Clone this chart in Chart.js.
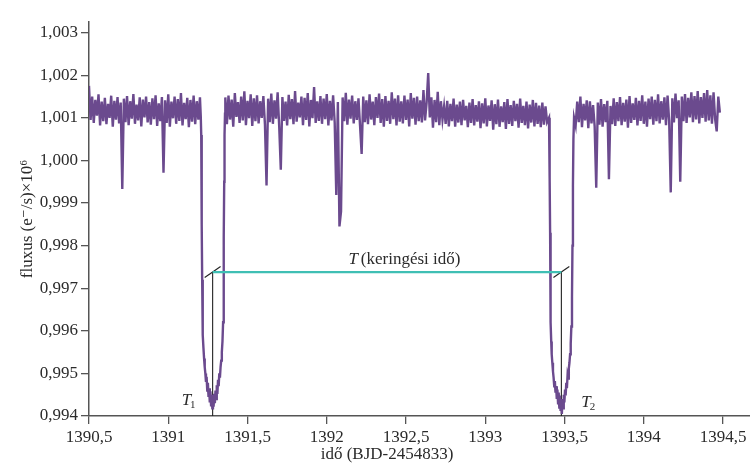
<!DOCTYPE html>
<html>
<head>
<meta charset="utf-8">
<script src="https://cdn.jsdelivr.net/npm/chart.js@4.4.1/dist/chart.umd.min.js"></script>
<style>
html,body{margin:0;padding:0;background:#fff;}
canvas{display:block;}
</style>
</head>
<body>
<canvas id="c" width="750" height="470"></canvas>
<script>
// ---------- DATA ----------
const xTickValues = [1390.5, 1391, 1391.5, 1392, 1392.5, 1393, 1393.5, 1394, 1394.5];
const yTickValues = [0.994, 0.995, 0.996, 0.997, 0.998, 0.999, 1.000, 1.001, 1.002, 1.003];

// segment before first transit
const timeA = [
1390.50,1390.51,1390.52,1390.53,1390.54,1390.55,1390.56,1390.57,1390.58,1390.59,
1390.60,1390.61,1390.62,1390.63,1390.64,1390.65,1390.66,1390.67,1390.68,1390.69,
1390.70,1390.71,1390.72,1390.73,1390.74,1390.75,1390.76,1390.77,1390.78,1390.79,
1390.80,1390.81,1390.82,1390.83,1390.84,1390.85,1390.86,1390.87,1390.88,1390.89,
1390.90,1390.91,1390.92,1390.93,1390.94,1390.95,1390.96,1390.97,1390.98,1390.99,
1391.00,1391.01,1391.02,1391.03,1391.04,1391.05,1391.06,1391.07,1391.08,1391.09,
1391.10,1391.11,1391.12,1391.13,1391.14,1391.15,1391.16,1391.17,1391.18,1391.19,
1391.20];
const fluxA = [
1.00175,1.00095,1.00150,1.00088,1.00142,1.00105,1.00155,1.00082,1.00138,1.00092,
1.00147,1.00085,1.00133,1.00100,1.00152,1.00079,1.00140,1.00096,1.00149,1.00087,
1.00136,0.99933,1.00145,1.00090,1.00151,1.00083,1.00139,1.00098,1.00156,1.00086,
1.00131,1.00094,1.00148,1.00080,1.00143,1.00101,1.00150,1.00089,1.00137,1.00084,
1.00146,1.00097,1.00153,1.00081,1.00134,1.00092,1.00149,0.99971,1.00141,1.00088,
1.00155,1.00079,1.00138,1.00099,1.00150,1.00086,1.00144,1.00093,1.00158,1.00082,
1.00135,1.00097,1.00147,1.00078,1.00142,1.00091,1.00152,1.00085,1.00139,1.00096,
1.00148];

// first transit
const timeT1 = [
1391.205,1391.208,1391.210,1391.212,1391.214,1391.216,1391.219,1391.222,1391.226,1391.230,
1391.234,1391.238,1391.242,1391.246,1391.250,1391.254,1391.258,1391.262,1391.266,1391.270,
1391.274,1391.278,1391.282,1391.286,1391.290,1391.294,1391.298,1391.302,1391.306,1391.310,
1391.314,1391.318,1391.322,1391.326,1391.330,1391.334,1391.338,1391.342,1391.346,1391.349,
1391.351,1391.353,1391.355,1391.358];
const fluxT1 = [
1.00105,1.00060,0.99980,0.99850,0.99720,0.99640,0.99590,0.99560,0.99535,0.99515,
0.99500,0.99480,0.99492,0.99460,0.99478,0.99445,0.99465,0.99432,0.99458,0.99425,
0.99450,0.99418,0.99445,0.99422,0.99452,0.99430,0.99460,0.99440,0.99472,0.99452,
0.99485,0.99470,0.99500,0.99490,0.99515,0.99530,0.99550,0.99575,0.99620,0.99700,
0.99820,0.99950,1.00060,1.00110];

// segment between the transits
const timeB = [
1391.36,1391.37,1391.38,1391.39,1391.40,1391.41,1391.42,1391.43,1391.44,1391.45,
1391.46,1391.47,1391.48,1391.49,1391.50,1391.51,1391.52,1391.53,1391.54,1391.55,
1391.56,1391.57,1391.58,1391.59,1391.60,1391.61,1391.62,1391.63,1391.64,1391.65,
1391.66,1391.67,1391.68,1391.69,1391.70,1391.71,1391.72,1391.73,1391.74,1391.75,
1391.76,1391.77,1391.78,1391.79,1391.80,1391.81,1391.82,1391.83,1391.84,1391.85,
1391.86,1391.87,1391.88,1391.89,1391.90,1391.91,1391.92,1391.93,1391.94,1391.95,
1391.96,1391.97,1391.98,1391.99,1392.00,1392.01,1392.02,1392.03,1392.04,1392.05,
1392.06,1392.07,1392.08,1392.09,1392.10,1392.11,1392.12,1392.13,1392.14,1392.15,
1392.16,1392.17,1392.18,1392.19,1392.20,1392.21,1392.22,1392.23,1392.24,1392.25,
1392.26,1392.27,1392.28,1392.29,1392.30,1392.31,1392.32,1392.33,1392.34,1392.35,
1392.36,1392.37,1392.38,1392.39,1392.40,1392.41,1392.42,1392.43,1392.44,1392.45,
1392.46,1392.47,1392.48,1392.49,1392.50,1392.51,1392.52,1392.53,1392.54,1392.55,
1392.56,1392.57,1392.58,1392.59,1392.60,1392.61,1392.62,1392.63,1392.64,1392.65,
1392.66,1392.67,1392.68,1392.69,1392.70,1392.71,1392.72,1392.73,1392.74,1392.75,
1392.76,1392.77,1392.78,1392.79,1392.80,1392.81,1392.82,1392.83,1392.84,1392.85,
1392.86,1392.87,1392.88,1392.89,1392.90,1392.91,1392.92,1392.93,1392.94,1392.95,
1392.96,1392.97,1392.98,1392.99,1393.00,1393.01,1393.02,1393.03,1393.04,1393.05,
1393.06,1393.07,1393.08,1393.09,1393.10,1393.11,1393.12,1393.13,1393.14,1393.15,
1393.16,1393.17,1393.18,1393.19,1393.20,1393.21,1393.22,1393.23,1393.24,1393.25,
1393.26,1393.27,1393.28,1393.29,1393.30,1393.31,1393.32,1393.33,1393.34,1393.35,
1393.36,1393.37,1393.38,1393.39];
const fluxB = [
1.00148,1.00085,1.00152,1.00096,1.00143,1.00079,1.00158,1.00102,1.00137,1.00088,
1.00150,1.00094,1.00162,1.00083,1.00140,1.00099,1.00155,1.00081,1.00146,1.00092,
1.00153,1.00087,1.00139,1.00100,1.00151,1.00084,0.99941,1.00145,1.00090,1.00157,
1.00086,1.00141,1.00098,1.00160,1.00079,0.99978,1.00149,1.00093,1.00138,1.00082,
1.00154,1.00097,1.00144,1.00085,1.00163,1.00091,1.00136,1.00101,1.00150,1.00083,
1.00147,1.00095,1.00158,1.00080,1.00142,1.00099,1.00172,1.00088,1.00139,1.00093,
1.00151,1.00086,1.00145,1.00097,1.00156,1.00082,1.00140,1.00094,1.00153,1.00089,
0.99919,1.00137,0.99845,0.99880,1.00148,1.00092,1.00159,1.00084,1.00143,1.00098,
1.00152,1.00087,1.00139,1.00095,1.00146,1.00081,1.00015,1.00150,1.00090,1.00141,
1.00085,1.00155,1.00096,1.00138,1.00083,1.00149,1.00100,1.00157,1.00088,1.00144,
1.00079,1.00151,1.00093,1.00140,1.00086,1.00160,1.00097,1.00145,1.00082,1.00153,
1.00091,1.00139,1.00087,1.00152,1.00095,1.00143,1.00080,1.00158,1.00098,1.00147,
1.00084,1.00150,1.00092,1.00141,1.00089,1.00165,1.00094,1.00136,1.00205,1.00101,
1.00148,1.00077,1.00142,1.00090,1.00161,1.00083,1.00139,1.00096,1.00127,1.00086,
1.00140,1.00080,1.00133,1.00092,1.00145,1.00079,1.00131,1.00089,1.00138,1.00083,
1.00142,1.00094,1.00128,1.00078,1.00136,1.00088,1.00144,1.00082,1.00130,1.00091,
1.00139,1.00076,1.00134,1.00087,1.00146,1.00080,1.00129,1.00093,1.00141,1.00072,
1.00132,1.00085,1.00143,1.00079,1.00127,1.00090,1.00137,1.00074,1.00144,1.00086,
1.00130,1.00081,1.00140,1.00092,1.00133,1.00077,1.00145,1.00088,1.00128,1.00083,
1.00138,1.00075,1.00131,1.00089,1.00142,1.00080,1.00135,1.00086,1.00129,1.00078,
1.00136,1.00084,1.00127,1.00090];

// second transit
const timeT2 = [
1393.402,1393.405,1393.407,1393.409,1393.411,1393.413,1393.416,1393.419,1393.423,1393.427,
1393.431,1393.435,1393.439,1393.443,1393.447,1393.451,1393.455,1393.459,1393.463,1393.467,
1393.471,1393.475,1393.479,1393.483,1393.487,1393.491,1393.495,1393.499,1393.503,1393.507,
1393.511,1393.515,1393.519,1393.523,1393.527,1393.531,1393.535,1393.539,1393.543,1393.547,
1393.550,1393.553,1393.556,1393.560];
const fluxT2 = [
1.00100,1.00040,0.99960,0.99830,0.99700,0.99620,0.99575,0.99545,0.99525,0.99505,
0.99490,0.99470,0.99482,0.99455,0.99470,0.99440,0.99462,0.99430,0.99455,0.99420,
0.99448,0.99412,0.99440,0.99405,0.99438,0.99418,0.99450,0.99432,0.99462,0.99448,
0.99478,0.99465,0.99495,0.99488,0.99512,0.99525,0.99545,0.99570,0.99610,0.99680,
0.99800,0.99940,1.00050,1.00100];

// segment after second transit
const timeC = [
1393.57,1393.58,1393.59,1393.60,1393.61,1393.62,1393.63,1393.64,1393.65,
1393.66,1393.67,1393.68,1393.69,1393.70,1393.71,1393.72,1393.73,1393.74,1393.75,
1393.76,1393.77,1393.78,1393.79,1393.80,1393.81,1393.82,1393.83,1393.84,1393.85,
1393.86,1393.87,1393.88,1393.89,1393.90,1393.91,1393.92,1393.93,1393.94,1393.95,
1393.96,1393.97,1393.98,1393.99,1394.00,1394.01,1394.02,1394.03,1394.04,1394.05,
1394.06,1394.07,1394.08,1394.09,1394.10,1394.11,1394.12,1394.13,1394.14,1394.15,
1394.16,1394.17,1394.18,1394.19,1394.20,1394.21,1394.22,1394.23,1394.24,1394.25,
1394.26,1394.27,1394.28,1394.29,1394.30,1394.31,1394.32,1394.33,1394.34,1394.35,
1394.36,1394.37,1394.38,1394.39,1394.40,1394.41,1394.42,1394.43,1394.44,1394.45,
1394.46,1394.47,1394.48];
const fluxC = [
1.00082,1.00138,1.00090,1.00150,1.00078,1.00133,1.00094,1.00141,1.00076,
1.00139,1.00087,1.00130,1.00080,0.99936,1.00136,1.00084,1.00144,1.00079,1.00132,
1.00090,1.00140,0.99956,1.00128,1.00085,1.00146,1.00081,1.00137,1.00092,1.00149,
1.00083,1.00135,1.00091,1.00143,1.00077,1.00151,1.00088,1.00134,1.00095,1.00147,
1.00082,1.00140,1.00093,1.00153,1.00086,1.00138,1.00079,1.00145,1.00097,1.00150,
1.00084,1.00142,1.00092,1.00155,1.00087,1.00139,1.00096,1.00148,1.00083,1.00152,
1.00093,0.99925,1.00146,1.00089,1.00157,1.00099,1.00141,0.99950,1.00150,1.00092,
1.00156,1.00088,1.00147,1.00101,1.00160,1.00090,1.00151,1.00096,1.00163,1.00087,
1.00149,1.00100,1.00158,1.00091,1.00165,1.00094,1.00153,1.00086,1.00160,1.00097,
1.00068,1.00150,1.00112];

// annotation values
const transitTimes = [1391.28, 1393.48];   // T1, T2
const periodLevel = 0.99738;                // level of the period bracket
const periodLabelX = 1392.49;
const slantHalfDx = 0.05, slantHalfDy = 0.00013;

// ---------- BUILD ----------
const FONT = '"Liberation Serif", "DejaVu Serif", serif';
const PURPLE = '#6b4a8e';
const CYAN = '#3fbfb4';
const AXIS = '#555555';
const TEXT = '#2b2b2b';

function pts(t, f) { return t.map((v, i) => ({x: v, y: f[i]})); }
const curve = [].concat(pts(timeA, fluxA), pts(timeT1, fluxT1), pts(timeB, fluxB),
                        pts(timeT2, fluxT2), pts(timeC, fluxC));
const yMin = yTickValues[0];

const lineDs = (data, color, width) => ({
  data, borderColor: color, backgroundColor: color, borderWidth: width,
  showLine: true, pointRadius: 0, pointHoverRadius: 0, tension: 0, fill: false,
  borderJoinStyle: 'miter'
});

const datasets = [
  lineDs([{x: transitTimes[0], y: periodLevel}, {x: transitTimes[1], y: periodLevel}], CYAN, 2.2),
  lineDs(curve, PURPLE, 2.4),
  lineDs([{x: transitTimes[0], y: periodLevel}, {x: transitTimes[0], y: yMin}], '#222', 1.1),
  lineDs([{x: transitTimes[1], y: periodLevel}, {x: transitTimes[1], y: yMin}], '#222', 1.1),
  lineDs([{x: transitTimes[0] - slantHalfDx, y: periodLevel - slantHalfDy},
          {x: transitTimes[0] + slantHalfDx, y: periodLevel + slantHalfDy}], '#222', 1.1),
  lineDs([{x: transitTimes[1] - slantHalfDx, y: periodLevel - slantHalfDy},
          {x: transitTimes[1] + slantHalfDx, y: periodLevel + slantHalfDy}], '#222', 1.1)
];

const textPlugin = {
  id: 'texts',
  afterDatasetsDraw(chart) {
    const {ctx, scales: {x, y}, chartArea} = chart;
    ctx.save();
    ctx.fillStyle = TEXT;
    ctx.textBaseline = 'alphabetic';
    ctx.textAlign = 'left';
    // period label
    const py = y.getPixelForValue(periodLevel) - 8;
    const cx = x.getPixelForValue(periodLabelX);
    ctx.font = 'italic 17px ' + FONT;
    const wT = ctx.measureText('T').width;
    ctx.font = '17px ' + FONT;
    const rest = '(keringési idő)';
    const wR = ctx.measureText(rest).width;
    const gap = 3;
    const start = cx - (wT + gap + wR) / 2;
    ctx.font = 'italic 17px ' + FONT;
    ctx.fillText('T', start, py);
    ctx.font = '17px ' + FONT;
    ctx.fillText(rest, start + wT + gap, py);
    // T1 / T2 labels
    const base = y.getPixelForValue(yMin);
    function sub(px, by, s) {
      ctx.font = 'italic 17px ' + FONT;
      ctx.fillText('T', px, by);
      const w = ctx.measureText('T').width;
      ctx.font = '11px ' + FONT;
      ctx.fillText(s, px + w - 1, by + 3);
    }
    sub(x.getPixelForValue(transitTimes[0]) - 31, base - 11, '1');
    sub(x.getPixelForValue(transitTimes[1]) + 20, base - 9, '2');
    // x-axis title
    ctx.font = '17px ' + FONT;
    ctx.textAlign = 'center';
    ctx.fillText('idő (BJD-2454833)', chartArea.left + 298, 459);
    ctx.restore();
  }
};

const fmt = (v, dec) => v.toFixed(dec).replace('.', ',');

new Chart(document.getElementById('c'), {
  type: 'scatter',
  data: {datasets},
  plugins: [textPlugin],
  options: {
    responsive: false,
    animation: false,
    events: [],
    layout: {padding: {top: 22, left: 0, right: 0, bottom: 0}},
    plugins: {legend: {display: false}, tooltip: {enabled: false}},
    scales: {
      x: {
        type: 'linear',
        min: 1390.5,
        max: 1394.67,
        afterBuildTicks: s => { s.ticks = xTickValues.map(v => ({value: v})); },
        afterFit: s => { s.height = 54; },
        grid: {drawOnChartArea: false, drawTicks: true, tickLength: 8, color: AXIS, lineWidth: 1.3},
        border: {display: true, color: AXIS, width: 1.5},
        ticks: {
          color: TEXT, padding: 3, maxRotation: 0, autoSkip: false,
          font: {family: FONT, size: 17},
          callback: v => fmt(v, Number.isInteger(v) ? 0 : 1)
        }
      },
      y: {
        type: 'linear',
        min: yMin,
        max: 1.00325,
        afterBuildTicks: s => { s.ticks = yTickValues.map(v => ({value: v})); },
        afterFit: s => { s.width = 89; },
        grid: {drawOnChartArea: false, drawTicks: true, tickLength: 8, color: AXIS, lineWidth: 1.3},
        border: {display: true, color: AXIS, width: 1.5},
        ticks: {
          color: TEXT, padding: 3, autoSkip: false,
          font: {family: FONT, size: 17},
          callback: v => fmt(v, 3)
        },
        title: {
          display: true, text: 'fluxus (e⁻/s)×10⁶', color: TEXT,
          font: {family: FONT, size: 17}, padding: {top: 17, bottom: 0}
        }
      }
    }
  }
});
</script>
</body>
</html>
